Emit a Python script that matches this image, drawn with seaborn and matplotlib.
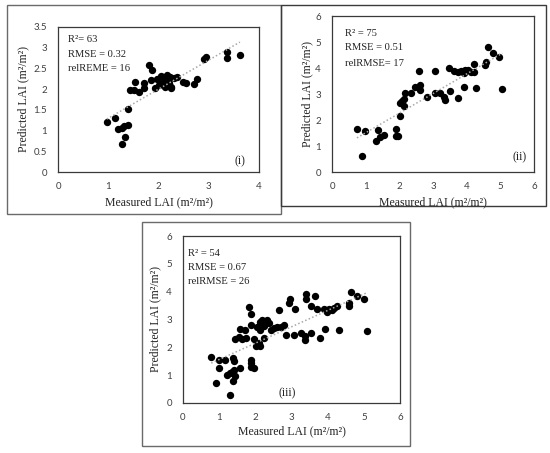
import matplotlib
matplotlib.use("Agg")
import numpy as np
import pandas as pd
import matplotlib.pyplot as plt
from matplotlib.patches import Rectangle
from matplotlib.ticker import FuncFormatter
import seaborn as sns

# ---- data ----
# panel (i)
meas_i = [0.97, 1.14, 1.19, 1.27, 1.32, 1.39, 1.40, 1.34, 1.27,
          1.43, 1.51, 1.54, 1.61, 1.71, 1.71, 1.81, 1.87, 1.85, 1.94, 1.97,
          2.00, 2.04, 2.07, 2.10, 2.12, 2.15, 2.17, 2.22, 2.24, 2.20, 2.25,
          2.31, 2.37, 2.49, 2.54, 2.71, 2.77, 2.91, 2.95, 3.37, 3.37, 3.62]
pred_i = [1.20, 1.31, 1.03, 1.05, 1.10, 1.13, 1.51, 0.84, 0.68,
          1.98, 1.99, 2.18, 1.94, 2.15, 2.02, 2.58, 2.45, 2.23, 2.02, 2.24,
          2.10, 2.31, 2.14, 2.28, 2.05, 2.22, 2.34, 2.30, 2.06, 2.15, 2.02,
          2.26, 2.29, 2.18, 2.16, 2.12, 2.24, 2.73, 2.78, 2.74, 2.90, 2.82]

# panel (ii)
meas_ii = [0.74, 0.97, 0.90, 1.37, 1.32, 1.42, 1.55, 1.89, 1.89, 1.97,
           2.01, 2.03, 2.09, 2.13, 2.15, 2.17, 2.36, 2.46, 2.58, 2.60, 2.62,
           2.82, 3.05, 3.05, 3.20, 3.33, 3.35, 3.47, 3.50, 3.63, 3.74, 3.74,
           3.84, 3.91, 3.92, 3.94, 4.04, 4.14, 4.21, 4.22, 4.27, 4.54, 4.57,
           4.64, 4.78, 4.96, 5.06]
pred_ii = [1.65, 1.58, 0.63, 1.62, 1.19, 1.33, 1.42, 1.67, 1.38, 1.38,
           2.15, 2.64, 2.73, 2.79, 2.52, 3.05, 3.03, 3.28, 3.88, 3.15, 3.35,
           2.90, 3.88, 3.05, 3.05, 2.90, 2.77, 4.01, 3.13, 3.90, 2.86, 3.83,
           3.88, 3.79, 3.26, 3.92, 3.92, 3.86, 4.14, 3.86, 3.22, 4.12, 4.24,
           4.82, 4.56, 4.44, 3.18]

# panel (iii)
meas_iii = [0.78, 1.00, 1.17, 1.39, 1.40, 1.00, 0.92, 1.29, 1.22, 1.31,
            1.36, 1.42, 1.57, 1.37, 1.45, 1.88, 1.88, 1.88, 1.96, 1.45,
            1.54, 1.63, 1.73, 1.57, 1.71, 1.83, 1.89, 1.89, 1.96, 2.03,
            2.14, 2.10, 2.05, 2.12, 2.19, 2.23, 2.14, 2.25, 2.31, 2.37,
            2.42, 2.51, 2.59, 2.70, 2.79, 2.65, 2.86, 2.93, 2.97, 3.09,
            3.08, 3.25, 3.36, 3.36, 3.41, 3.41, 3.53, 3.53, 3.65, 3.71,
            3.79, 3.90, 3.94, 3.97, 4.04, 4.13, 4.17, 4.27, 4.31, 4.59,
            4.59, 4.64, 4.82, 5.00, 5.10]
pred_iii = [1.64, 1.54, 1.54, 1.60, 1.52, 1.25, 0.72, 0.28, 1.02, 1.06,
            1.10, 1.18, 1.24, 0.78, 0.96, 1.54, 1.42, 1.30, 1.26, 2.30,
            2.36, 2.30, 2.32, 2.66, 2.64, 3.46, 3.18, 2.79, 2.30, 2.04,
            2.06, 2.16, 2.74, 2.90, 3.00, 2.76, 2.62, 2.34, 2.97, 2.86,
            2.64, 2.70, 2.74, 2.74, 2.79, 3.34, 2.46, 3.60, 3.75, 3.39,
            2.46, 2.52, 2.40, 2.26, 3.90, 3.72, 2.52, 3.48, 3.84, 3.36,
            2.34, 3.36, 2.66, 3.26, 3.36, 3.34, 3.40, 3.48, 2.64, 3.48,
            3.58, 3.98, 3.84, 3.72, 2.58]

stats_i = ["R²= 63", "RMSE = 0.32", "relREME = 16"]
stats_ii = ["R² = 75", "RMSE = 0.51", "relRMSE= 17"]
stats_iii = ["R² = 54", "RMSE = 0.67", "relRMSE = 26"]

x_label = "Measured LAI (m²/m²)"
y_label = "Predicted LAI (m²/m²)"

# ---- layout (pixel coordinates of the 550x453 picture) ----
W, H = 550, 453
SERIF = ["Liberation Serif", "DejaVu Serif"]
SANS = ["Lato", "DejaVu Sans"]

sns.set_theme(style="white")
plt.rcParams["font.family"] = SANS

fig = plt.figure(figsize=(W / 100, H / 100), dpi=100)
fig.patch.set_facecolor("white")


def px_rect(l, t, r, b):
    return [l / W, 1 - b / H, (r - l) / W, (b - t) / H]


def frame(l, t, r, b, color="#6a6a6a"):
    fig.patches.append(Rectangle((l / W, 1 - b / H), (r - l) / W, (b - t) / H,
                                 transform=fig.transFigure, fill=False,
                                 edgecolor=color, linewidth=1.0))


def panel(box, meas, pred, xmax, ymax, ystep, stats, stat_xy, tag, tag_xy,
          xlab_off, ylab_off):
    l, t, r, b = box
    ax = fig.add_axes(px_rect(l, t, r, b))
    df = pd.DataFrame({"measured": meas, "predicted": pred})
    sns.scatterplot(data=df, x="measured", y="predicted", ax=ax,
                    color="black", s=28, linewidth=0, zorder=2)
    sns.regplot(data=df, x="measured", y="predicted", ax=ax, scatter=False,
                ci=None, line_kws=dict(color="#a8a8a8", ls=(0, (1, 1.5)),
                                       lw=1.1, zorder=3))
    ax.set_xlim(0, xmax)
    ax.set_ylim(0, ymax)
    ax.set_xticks(np.arange(0, xmax + 0.01, 1))
    ax.set_yticks(np.arange(0, ymax + 0.01, ystep))
    fmt = FuncFormatter(lambda v, p: f"{v:g}")
    ax.xaxis.set_major_formatter(fmt)
    ax.yaxis.set_major_formatter(fmt)
    ax.tick_params(length=0, labelsize=7, labelcolor="#404040")
    ax.tick_params(axis="x", pad=7)
    ax.tick_params(axis="y", pad=8)
    for lbl in ax.get_xticklabels() + ax.get_yticklabels():
        lbl.set_fontfamily(SANS)
    for s in ax.spines.values():
        s.set_color("#3a3a3a")
        s.set_linewidth(0.9)
    w, h = r - l, b - t
    ax.set_xlabel(x_label, fontfamily=SERIF, fontsize=8.5, color="#222222")
    ax.set_ylabel(y_label, fontfamily=SERIF, fontsize=8.5, color="#222222")
    ax.xaxis.set_label_coords(0.5, -xlab_off / h)
    ax.xaxis.label.set_va("center")
    ax.yaxis.set_label_coords(-ylab_off / w, 0.5)
    ax.yaxis.label.set_va("center")
    sx, sy0, dy = stat_xy
    for i, txt in enumerate(stats):
        ax.text(sx / w, 1 - (sy0 + i * dy) / h, txt, transform=ax.transAxes,
                fontfamily=SERIF, fontsize=7.6, color="#222222",
                ha="left", va="center")
    ax.text(tag_xy[0] / w, 1 - tag_xy[1] / h, tag, transform=ax.transAxes,
            fontfamily=SERIF, fontsize=8.5, color="#222222",
            ha="center", va="center")
    return ax


frame(7, 5, 281, 214)
frame(281, 5, 546, 206, color="#3a3a3a")
frame(142, 222, 410, 446)

panel((58, 27, 259, 172), meas_i, pred_i, 4, 3.5, 0.5, stats_i,
      (10, 13, 14.5), "(i)", (182, 134), 30, 35)
panel((332, 16, 534, 172), meas_ii, pred_ii, 6, 6, 1, stats_ii,
      (13, 17, 15), "(ii)", (188, 141), 30, 25)
panel((183, 236, 400, 403), meas_iii, pred_iii, 6, 6, 1, stats_iii,
      (5, 17, 14.5), "(iii)", (104, 157), 28, 28)

fig.savefig("out.png", dpi=100, facecolor="white")
